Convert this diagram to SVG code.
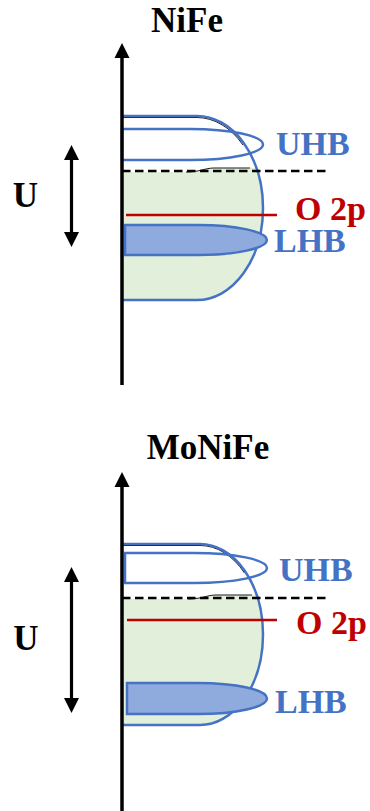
<svg xmlns="http://www.w3.org/2000/svg" width="370" height="811" viewBox="0 0 370 811">
  <defs>
    <marker id="head" markerUnits="userSpaceOnUse" markerWidth="16" markerHeight="16" refX="0" refY="0" viewBox="0 -8 16 16" orient="auto-start-reverse" overflow="visible">
      <path d="M0,-7.5 L15,0 L0,7.5 Z" fill="#000"/>
    </marker>
  </defs>
  <style>
    .title { font-family: "Liberation Serif", "Times New Roman", serif; font-weight: bold; font-size: 35px; fill: #000; }
    .lbl { font-family: "Liberation Serif", "Times New Roman", serif; font-weight: bold; font-size: 34px; }
    .blue { fill: #4472C4; }
    .red { fill: #C00000; }
    .band { fill: #E2EFDA; stroke: none; }
    .gap { fill: #fff; stroke: none; }
    .edge { fill: none; stroke: #000; stroke-width: 0.9; }
    .outline { fill: none; stroke: #4472C4; stroke-width: 2.5; }
    .uhb { fill: none; stroke: #4472C4; stroke-width: 2.5; }
    .lhb { fill: #8FAADC; stroke: #4472C4; stroke-width: 2.5; }
    .fermi { stroke: #000; stroke-width: 2.5; stroke-dasharray: 8.5 4.5; fill: none; }
    .o2p { stroke: #C00000; stroke-width: 2.4; fill: none; }
    .axis { stroke: #000; stroke-width: 3.5; fill: none; marker-end: url(#head); }
    .uarrow { stroke: #000; stroke-width: 3.2; fill: none; marker-start: url(#head); marker-end: url(#head); }
  </style>

  <!-- NiFe panel -->
  <g id="nife">
    <text class="title" x="187" y="32" text-anchor="middle">NiFe</text>
    <g id="nife-dos">
      <path class="band" d="M122,116 H197 A66,92 0 0 1 197,300 H122 Z"/>
      <path class="gap" d="M122,117.5 H197 A64.5,90.5 0 0 1 254.9,168 L212,168 C205,168.5 200,172 190,172 H122 Z"/>
      <path class="edge" d="M122,117.5 H197 A64.5,90.5 0 0 1 243,145"/>
      <path class="edge" d="M186,172 C200,172 205,168 214,168 H250"/>
      <path class="outline" d="M122,116 H197 A66,92 0 0 1 197,300 H122"/>
    </g>
    <g id="nife-uhb">
      <path class="uhb" d="M122,129 H190 A73,15.5 0 0 1 190,160 H122 Z"/>
      <text class="lbl blue" x="276" y="155">UHB</text>
    </g>
    <line class="fermi" x1="122" y1="171" x2="327" y2="171"/>
    <g id="nife-o2p">
      <line class="o2p" x1="126" y1="215" x2="277" y2="215"/>
      <text class="lbl red" x="295" y="220">O 2p</text>
    </g>
    <g id="nife-lhb">
      <path class="lhb" d="M125,225 H198 A69,15 0 0 1 198,255 H125 Z"/>
      <text class="lbl blue" x="274" y="252">LHB</text>
    </g>
    <g id="nife-u">
      <text class="title" x="25.5" y="207" text-anchor="middle">U</text>
    </g>
  </g>

  <!-- MoNiFe panel -->
  <g id="monife">
    <text class="title" x="208" y="459" text-anchor="middle">MoNiFe</text>
    <g id="monife-dos">
      <path class="band" d="M122,544 H200 A63,90.5 0 0 1 200,725 H122 Z"/>
      <path class="gap" d="M122,545.5 H200 A61.5,89 0 0 1 255,595 L214,595 C207,595.5 202,599 192,599 H122 Z"/>
      <path class="edge" d="M122,545.5 H200 A61.5,89 0 0 1 244.5,573"/>
      <path class="edge" d="M188,599 C202,599 207,595 216,595 H252"/>
      <path class="outline" d="M122,544 H200 A63,90.5 0 0 1 200,725 H122"/>
    </g>
    <g id="monife-uhb">
      <path class="uhb" d="M125,553 H194 A73,15 0 0 1 194,583 H125 Z"/>
      <text class="lbl blue" x="279" y="581">UHB</text>
    </g>
    <line class="fermi" x1="122" y1="598" x2="327" y2="598"/>
    <g id="monife-o2p">
      <line class="o2p" x1="127" y1="620" x2="277" y2="620"/>
      <text class="lbl red" x="296" y="634">O 2p</text>
    </g>
    <g id="monife-lhb">
      <path class="lhb" d="M127,683 H198 A69,15.5 0 0 1 198,714 H127 Z"/>
      <text class="lbl blue" x="275" y="713">LHB</text>
    </g>
    <g id="monife-u">
      <text class="title" x="26" y="650" text-anchor="middle">U</text>
    </g>
  </g>

  <!-- connectors: energy axes and U double arrows -->
  <g id="connectors">
    <line class="axis" x1="122" y1="385" x2="122" y2="58"/>
    <line class="uarrow" x1="71.5" y1="160" x2="71.5" y2="232"/>
    <line class="axis" x1="122" y1="811" x2="122" y2="487"/>
    <line class="uarrow" x1="71.5" y1="582" x2="71.5" y2="698"/>
  </g>
</svg>
